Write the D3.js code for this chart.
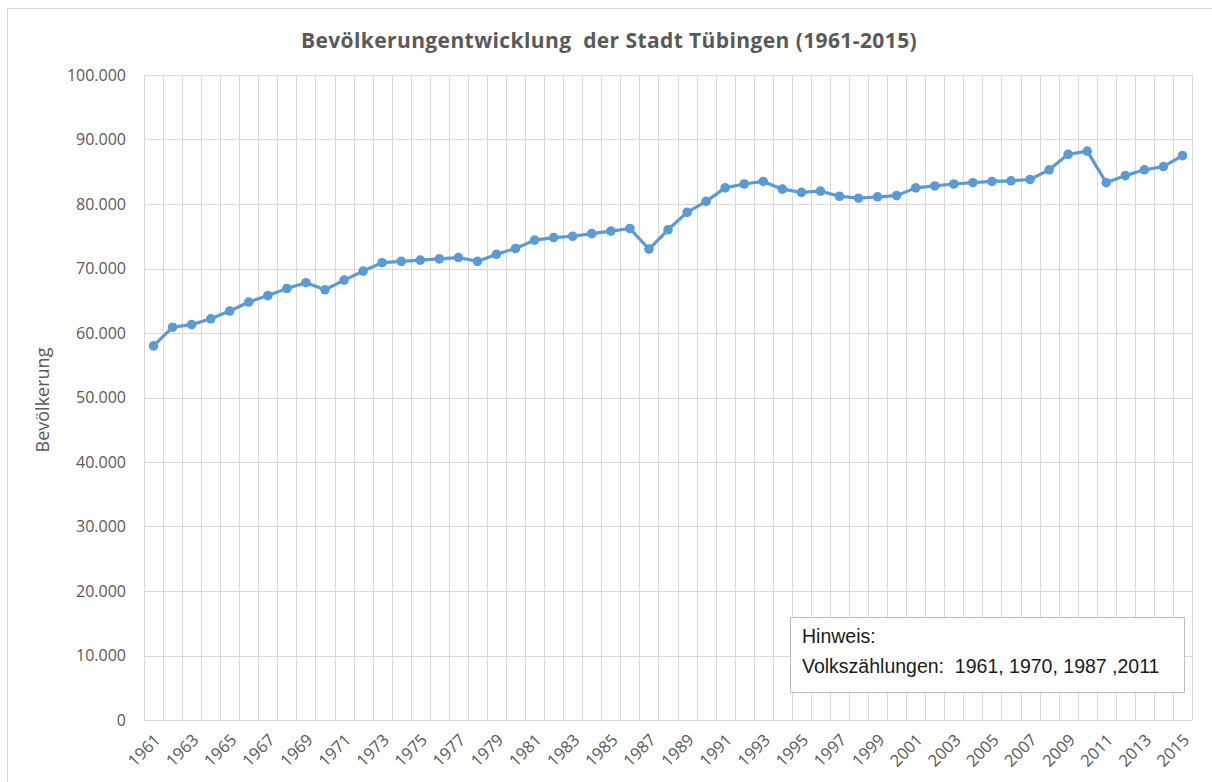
<!DOCTYPE html>
<html>
<head>
<meta charset="utf-8">
<script src="https://cdnjs.cloudflare.com/ajax/libs/d3/7.8.5/d3.min.js"></script>
<style>
    body { margin: 0; background: #fff; }
    text { font-family: "Open Sans", "Noto Sans", sans-serif; fill: #595959; white-space: pre; }
    .note text { font-family: "Liberation Sans", Arial, sans-serif; fill: #1a1a1a; }
</style>
</head>
<body>
<svg id="chart" width="1212" height="782"></svg>
<script>
// Einwohner Tübingen 1961-2015
var years = d3.range(1961, 2016);
var population = [
    58000, 60900, 61300, 62200, 63400, 64800, 65800, 66900, 67800, 66700,
    68200, 69600, 70900, 71100, 71300, 71500, 71700, 71100, 72200, 73100,
    74400, 74800, 75000, 75400, 75800, 76200, 73000, 76000, 78700, 80400,
    82500, 83100, 83500, 82300, 81800, 82000, 81200, 80900, 81100, 81300,
    82500, 82800, 83100, 83300, 83500, 83600, 83800, 85300, 87700, 88200,
    83300, 84400, 85300, 85800, 87500
];
var yTicks = d3.range(0, 100001, 10000);
var noteLines = ["Hinweis:", "Volkszählungen:  1961, 1970, 1987 ,2011"];

var margin = {top: 75, right: 20, bottom: 62, left: 144},
    width = 1192 - margin.left,
    height = 720 - margin.top;

var de = d3.formatLocale({decimal: ",", thousands: ".", grouping: [3], currency: ["", " €"]});
var fmt = de.format(",");

var svg = d3.select("#chart");

// Rahmen Diagrammbereich
svg.append("rect")
    .attr("x", 7.5)
    .attr("y", 8.5)
    .attr("width", 1230)
    .attr("height", 800)
    .attr("fill", "none")
    .attr("stroke", "#d9d9d9");

svg.append("text")
    .attr("x", 609)
    .attr("y", 48)
    .attr("text-anchor", "middle")
    .style("font-size", "21px")
    .style("font-weight", "bold")
    .style("letter-spacing", "0.4px")
    .text("Bevölkerungentwicklung  der Stadt Tübingen (1961-2015)");

var g = svg.append("g")
    .attr("transform", "translate(" + margin.left + "," + margin.top + ")");

var x = d3.scaleBand()
    .domain(years)
    .range([0, width])
    .padding(0);

var y = d3.scaleLinear()
    .domain([0, 100000])
    .range([height, 0]);

// horizontale Gitterlinien
g.selectAll(".hgrid")
    .data(yTicks)
    .enter()
    .append("line")
    .attr("class", "hgrid")
    .attr("x1", 0)
    .attr("x2", width)
    .attr("y1", function(d) { return Math.round(y(d)) + 0.5; })
    .attr("y2", function(d) { return Math.round(y(d)) + 0.5; })
    .attr("stroke", "#d9d9d9");

// vertikale Gitterlinien zwischen den Kategorien
var edges = years.map(function(d) { return x(d); }).concat([width]);
g.selectAll(".vgrid")
    .data(edges)
    .enter()
    .append("line")
    .attr("class", "vgrid")
    .attr("x1", function(d) { return Math.round(d) + 0.5; })
    .attr("x2", function(d) { return Math.round(d) + 0.5; })
    .attr("y1", 0)
    .attr("y2", height)
    .attr("stroke", "#d9d9d9");

var yAxis = d3.axisLeft(y)
    .tickValues(yTicks)
    .tickSize(0)
    .tickPadding(18)
    .tickFormat(function(d) { return fmt(d); });

g.append("g")
    .attr("class", "y axis")
    .call(yAxis)
    .call(function(s) { s.select(".domain").remove(); })
    .selectAll("text")
    .style("font-size", "16px")
    .style("fill", "#595959")
    .style("font-family", "'Open Sans', sans-serif");

var xAxis = d3.axisBottom(x)
    .tickValues(years.filter(function(d) { return (d - 1961) % 2 === 0; }))
    .tickSize(0)
    .tickPadding(0);

g.append("g")
    .attr("class", "x axis")
    .attr("transform", "translate(0," + height + ")")
    .call(xAxis)
    .call(function(s) { s.select(".domain").remove(); })
    .selectAll("text")
    .attr("y", 0)
    .attr("dy", 0)
    .attr("transform", "translate(8,21) rotate(-45)")
    .style("text-anchor", "end")
    .style("font-size", "16.5px")
    .style("fill", "#595959")
    .style("font-family", "'Open Sans', sans-serif");

svg.append("text")
    .attr("transform", "translate(49,400) rotate(-90)")
    .attr("text-anchor", "middle")
    .style("font-size", "18px")
    .text("Bevölkerung");

var cx = function(d, i) { return x(years[i]) + x.bandwidth() / 2; };

var line = d3.line()
    .x(function(d, i) { return cx(d, i); })
    .y(function(d) { return y(d); });

g.append("path")
    .datum(population)
    .attr("d", line)
    .attr("fill", "none")
    .attr("stroke", "#5b9bd5")
    .attr("stroke-width", 3.2)
    .attr("stroke-linejoin", "round");

g.selectAll(".dot")
    .data(population)
    .enter()
    .append("circle")
    .attr("class", "dot")
    .attr("cx", cx)
    .attr("cy", function(d) { return y(d); })
    .attr("r", 4.8)
    .attr("fill", "#5b9bd5");

// Hinweis-Box
var note = svg.append("g").attr("class", "note");
note.append("rect")
    .attr("x", 790.5)
    .attr("y", 617.5)
    .attr("width", 394)
    .attr("height", 75)
    .attr("fill", "#fff")
    .attr("stroke", "#bfbfbf");

note.selectAll("text")
    .data(noteLines)
    .enter()
    .append("text")
    .attr("x", 802)
    .attr("y", function(d, i) { return 643 + i * 30; })
    .style("font-size", "19.5px")
    .text(function(d) { return d; });
</script>
</body>
</html>
